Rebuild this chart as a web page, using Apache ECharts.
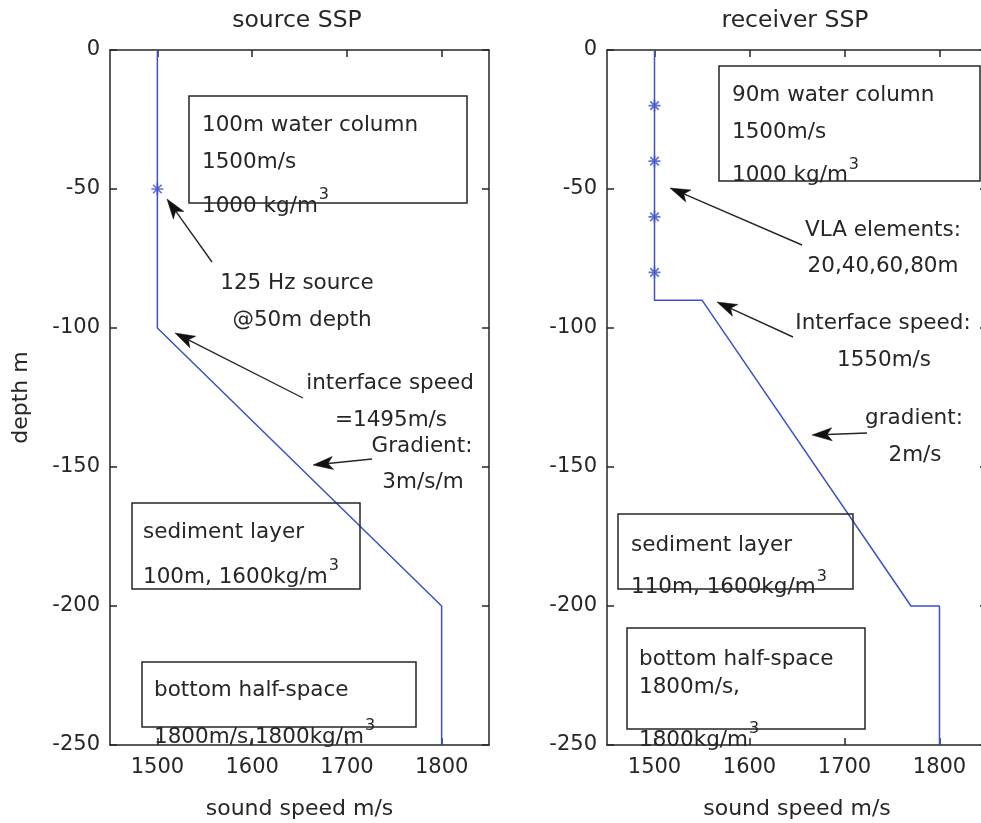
<!DOCTYPE html>
<html><head><meta charset="utf-8">
<script src="https://cdn.jsdelivr.net/npm/echarts@6/dist/echarts.min.js"></script>
<style>html,body{margin:0;padding:0;background:#fff;} #c{width:981px;height:823px;}</style>
</head><body><div id="c"></div>
<script>
// ---------- data ----------
const speedTicks = [1500, 1600, 1700, 1800];
const depthTicks = [0, -50, -100, -150, -200, -250];
const titles = ['source SSP', 'receiver SSP'];
const xName = 'sound speed m/s';
const yName = 'depth m';
const srcSpeed = [1500, 1500, 1800, 1800];
const srcDepth = [0, -100, -200, -250];
const srcMarkSpeed = [1500];
const srcMarkDepth = [-50];
const rcvSpeed = [1500, 1500, 1550, 1770, 1800, 1800];
const rcvDepth = [0, -90, -90, -200, -200, -250];
const rcvMarkSpeed = [1500, 1500, 1500, 1500];
const rcvMarkDepth = [-20, -40, -60, -80];

// ---------- annotation layout (pixels) ----------
const boxes = [[189,96,467,203],[132,503,360,589],[142,662,416,727],
               [719,66,980,181],[618,514,853,589],[627,628,865,729]];
const notes = [
  ['100m water column',202,125,'left'],['1500m/s',202,162,'left'],['1000 kg/m',202,206,'left','3'],
  ['125 Hz source',297,283,'center'],['@50m depth',302,320,'center'],
  ['interface speed',390,383,'center'],['=1495m/s',391,420,'center'],
  ['Gradient:',422,446,'center'],['3m/s/m',423,482,'center'],
  ['sediment layer',143,532,'left'],['100m, 1600kg/m',143,577,'left','3'],
  ['bottom half-space',154,690,'left'],['1800m/s,1800kg/m',154,737,'left','3'],
  ['90m water column',732,95,'left'],['1500m/s',732,132,'left'],['1000 kg/m',732,175.5,'left','3'],
  ['VLA elements:',883,230.5,'center'],['20,40,60,80m',883,266,'center'],
  ['Interface speed:',883,323,'center'],['1550m/s',884,360,'center'],
  ['gradient:',914,418,'center'],['2m/s',915,455,'center'],
  ['sediment layer',631,545,'left'],['110m, 1600kg/m',631,587.5,'left','3'],
  ['bottom half-space',639,659,'left'],['1800m/s,',639,687.5,'left'],['1800kg/m',639,740,'left','3']
];
const arrows = [[[212,262],[167,199]],[[303,398],[175,333]],[[372,459],[313,465]],
                [[802,245],[670,188]],[[793,337],[717,302]],[[867,433],[812,435]]];
const titlePos = [[297,21],[795,21]];

const FONT = 'DejaVu Sans';
const INK = '#262626';
const BLUE = '#3c50c8';
const FS = 21.5;
const ASTER = 'path://M8.6,0 L11.4,0 L11.4,20 L8.6,20 Z M0,8.6 L20,8.6 L20,11.4 L0,11.4 Z M1.9,3.9 L3.9,1.9 L18.1,16.1 L16.1,18.1 Z M16.1,1.9 L18.1,3.9 L3.9,18.1 L1.9,16.1 Z';

const zip = (a, b) => a.map((v, i) => [v, b[i]]);
const plain = v => String(v);
const lineAx = {show: true, onZero: false, lineStyle: {color: INK, width: 1.5}};
const tickAx = (vals) => ({show: true, inside: true, length: 7, customValues: vals, lineStyle: {color: INK, width: 1.5}});
const nameStyle = {color: INK, fontSize: 22, fontFamily: FONT};

function xPair(gi) {
  return [
    {type: 'value', gridIndex: gi, position: 'bottom', min: 1450, max: 1850,
     axisLine: lineAx, axisTick: tickAx(speedTicks),
     axisLabel: {show: true, customValues: speedTicks, formatter: plain, color: INK, fontSize: 21, fontFamily: FONT, margin: 12},
     splitLine: {show: false}, name: xName, nameLocation: 'middle', nameGap: 53, nameTextStyle: nameStyle},
    {type: 'value', gridIndex: gi, position: 'top', min: 1450, max: 1850,
     axisLine: lineAx, axisTick: tickAx(speedTicks), axisLabel: {show: false}, splitLine: {show: false}}
  ];
}
function yPair(gi) {
  return [
    {type: 'value', gridIndex: gi, position: 'left', min: -250, max: 0, interval: 50,
     axisLine: lineAx, axisTick: tickAx(depthTicks),
     axisLabel: {show: true, customValues: depthTicks, formatter: plain, color: INK, fontSize: 21, fontFamily: FONT, margin: 10, padding: [6, 0, 0, 0]},
     splitLine: {show: false}, name: gi === 0 ? yName : '', nameLocation: 'middle', nameGap: 78, nameTextStyle: nameStyle},
    {type: 'value', gridIndex: gi, position: 'right', min: -250, max: 0, interval: 50,
     axisLine: lineAx, axisTick: tickAx(depthTicks), axisLabel: {show: false}, splitLine: {show: false}}
  ];
}

const chart = echarts.init(document.getElementById('c'), null, {renderer: 'canvas'});

const measure = document.createElement('canvas').getContext('2d');
function tw(text, size) { measure.font = size + 'px "' + FONT + '"'; return measure.measureText(text).width; }

const graphic = [];
boxes.forEach(b => graphic.push({type: 'rect', z: 50, shape: {x: b[0], y: b[1], width: b[2] - b[0], height: b[3] - b[1]},
  style: {fill: 'rgba(0,0,0,0)', stroke: INK, lineWidth: 1.5}}));
notes.forEach(n => {
  graphic.push({type: 'text', z: 60, x: n[1], y: n[2], style: {text: n[0], fill: INK, fontSize: FS, fontFamily: FONT, align: n[3], verticalAlign: 'middle'}});
  if (n[4]) {
    const w = tw(n[0], FS);
    const x0 = n[3] === 'left' ? n[1] + w + 1 : n[1] + w / 2 + 1;
    graphic.push({type: 'text', z: 60, x: x0, y: n[2] - 11, style: {text: n[4], fill: INK, fontSize: 16, fontFamily: FONT, align: 'left', verticalAlign: 'middle'}});
  }
});
arrows.forEach(a => {
  const tail = a[0], tip = a[1];
  const dx = tip[0] - tail[0], dy = tip[1] - tail[1], L = Math.hypot(dx, dy);
  const ux = dx / L, uy = dy / L, px = -uy, py = ux;
  const hl = 20, hw = 6.5, notch = 15;
  const bx = tip[0] - ux * hl, by = tip[1] - uy * hl;
  const nx = tip[0] - ux * notch, ny = tip[1] - uy * notch;
  graphic.push({type: 'line', z: 55, shape: {x1: tail[0], y1: tail[1], x2: nx, y2: ny}, style: {stroke: INK, lineWidth: 1.4}});
  graphic.push({type: 'polygon', z: 55, shape: {points: [[tip[0], tip[1]], [bx + px * hw, by + py * hw], [nx, ny], [bx - px * hw, by - py * hw]]},
    style: {fill: '#111', stroke: '#111', lineWidth: 0.5}});
});
titles.forEach((t, i) => graphic.push({type: 'text', z: 60, x: titlePos[i][0], y: titlePos[i][1],
  style: {text: t, fill: INK, fontSize: 23.5, fontFamily: FONT, align: 'center', verticalAlign: 'middle'}}));

chart.setOption({
  animation: false,
  backgroundColor: '#fff',
  textStyle: {fontFamily: FONT},
  grid: [
    {left: 110, top: 50, width: 379, height: 695, outerBoundsMode: 'none', containLabel: false},
    {left: 607, top: 50, width: 380, height: 695, outerBoundsMode: 'none', containLabel: false}
  ],
  xAxis: [...xPair(0), ...xPair(1)],
  yAxis: [...yPair(0), ...yPair(1)],
  series: [
    {type: 'line', xAxisIndex: 0, yAxisIndex: 0, data: zip(srcSpeed, srcDepth), showSymbol: false,
     lineStyle: {color: BLUE, width: 1.5}, itemStyle: {color: BLUE}, z: 3},
    {type: 'scatter', xAxisIndex: 0, yAxisIndex: 0, data: zip(srcMarkSpeed, srcMarkDepth), symbol: ASTER, symbolSize: 12,
     itemStyle: {color: BLUE}, z: 4},
    {type: 'line', xAxisIndex: 2, yAxisIndex: 2, data: zip(rcvSpeed, rcvDepth), showSymbol: false,
     lineStyle: {color: BLUE, width: 1.5}, itemStyle: {color: BLUE}, z: 3},
    {type: 'scatter', xAxisIndex: 2, yAxisIndex: 2, data: zip(rcvMarkSpeed, rcvMarkDepth), symbol: ASTER, symbolSize: 12,
     itemStyle: {color: BLUE}, z: 4}
  ],
  graphic: graphic
});
</script></body></html>
